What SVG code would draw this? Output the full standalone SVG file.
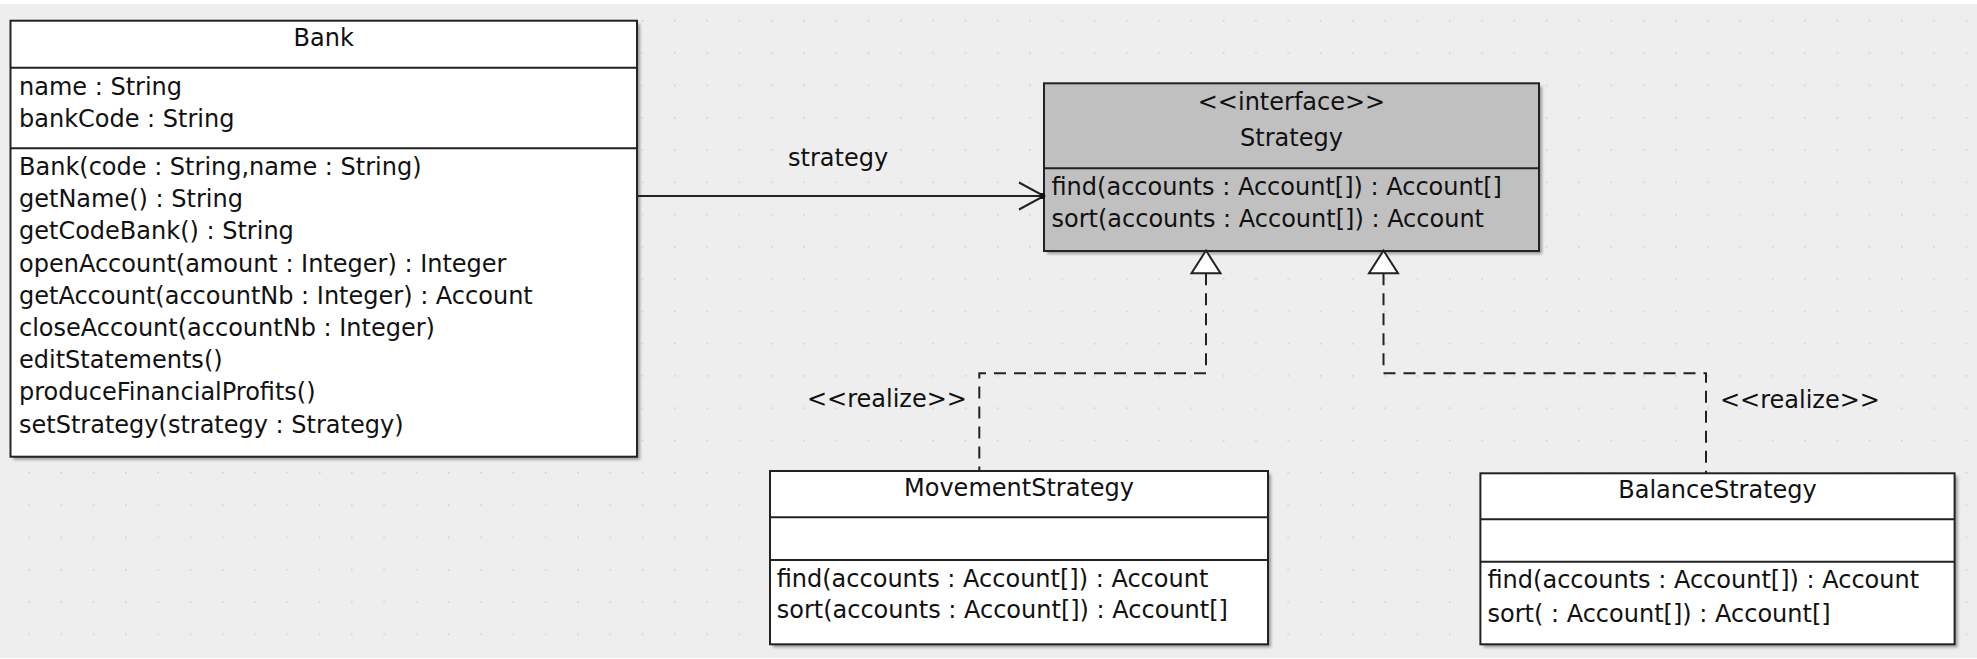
<svg xmlns="http://www.w3.org/2000/svg" width="1977" height="659" viewBox="0 0 1977 659">
  <style>
    .box { stroke: #222; stroke-width: 2; }
    .cls { fill: #ffffff; }
    .iface { fill: #c0c0c0; }
    .div { stroke: #222; stroke-width: 2; }
    text { font-family: "DejaVu Sans", "Liberation Sans", sans-serif; font-size: 24px; fill: #111; }
    .mid { text-anchor: middle; }
    .line { fill: none; stroke: #222; stroke-width: 2; }
    .dash { fill: none; stroke: #222; stroke-width: 2; stroke-dasharray: 12 8; }
    .tri { fill: #ffffff; stroke: #222; stroke-width: 2; stroke-linejoin: miter; }
  </style>
  <defs>
    <pattern id="grid" x="28.2" y="20" width="32.29" height="32.29" patternUnits="userSpaceOnUse">
      <rect x="-1.5" y="-1.5" width="3" height="3" fill="#cdcdcd"/>
    </pattern>
    <filter id="shadow" x="-5%" y="-5%" width="110%" height="110%">
      <feGaussianBlur stdDeviation="1.6"/>
    </filter>
  </defs>

  <!-- canvas -->
  <rect x="0" y="0" width="1977" height="659" fill="#ffffff"/>
  <rect x="0" y="4" width="1977" height="654" fill="#eeeeee"/>
  <rect x="0" y="4" width="1977" height="654" fill="url(#grid)"/>

  <!-- Bank -->
  <g id="bank">
    <rect x="13.5" y="23.7" width="626.5" height="436" fill="#9a9a9a" filter="url(#shadow)"/>
    <rect class="box cls" x="10.5" y="20.7" width="626.5" height="436"/>
    <line class="div" x1="10.5" y1="67.7" x2="637" y2="67.7"/>
    <line class="div" x1="10.5" y1="148.3" x2="637" y2="148.3"/>
    <text class="mid" x="323.7" y="45.7">Bank</text>
    <text x="19" y="95">name : String</text>
    <text x="19" y="126.7">bankCode : String</text>
    <text x="19" y="175">Bank(code : String,name : String)</text>
    <text x="19" y="207">getName() : String</text>
    <text x="19" y="239">getCodeBank() : String</text>
    <text x="19" y="271.5">openAccount(amount : Integer) : Integer</text>
    <text x="19" y="303.5">getAccount(accountNb : Integer) : Account</text>
    <text x="19" y="336">closeAccount(accountNb : Integer)</text>
    <text x="19" y="368">editStatements()</text>
    <text x="19" y="400">produceFinancialProfits()</text>
    <text x="19" y="432.5">setStrategy(strategy : Strategy)</text>
  </g>

  <!-- Strategy interface -->
  <g id="strategy">
    <rect x="1047" y="86.3" width="495" height="167.7" fill="#9a9a9a" filter="url(#shadow)"/>
    <rect class="box iface" x="1044" y="83.3" width="495" height="167.7"/>
    <line class="div" x1="1044" y1="168.3" x2="1539" y2="168.3"/>
    <text class="mid" x="1291.5" y="110">&lt;&lt;interface&gt;&gt;</text>
    <text class="mid" x="1291.5" y="146">Strategy</text>
    <text x="1051.5" y="195">find(accounts : Account[]) : Account[]</text>
    <text x="1051.5" y="226.7">sort(accounts : Account[]) : Account</text>
  </g>

  <!-- MovementStrategy -->
  <g id="movement-strategy">
    <rect x="773" y="474" width="498" height="173.3" fill="#9a9a9a" filter="url(#shadow)"/>
    <rect class="box cls" x="770" y="471" width="498" height="173.3"/>
    <line class="div" x1="770" y1="517.3" x2="1268" y2="517.3"/>
    <line class="div" x1="770" y1="560" x2="1268" y2="560"/>
    <text class="mid" x="1019" y="496">MovementStrategy</text>
    <text x="776.7" y="586.7">find(accounts : Account[]) : Account</text>
    <text x="776.7" y="618.3">sort(accounts : Account[]) : Account[]</text>
  </g>

  <!-- BalanceStrategy -->
  <g id="balance-strategy">
    <rect x="1483.4" y="476.3" width="474.2" height="171" fill="#9a9a9a" filter="url(#shadow)"/>
    <rect class="box cls" x="1480.4" y="473.3" width="474.2" height="171"/>
    <line class="div" x1="1480.4" y1="519.3" x2="1954.6" y2="519.3"/>
    <line class="div" x1="1480.4" y1="561.7" x2="1954.6" y2="561.7"/>
    <text class="mid" x="1717.5" y="498.3">BalanceStrategy</text>
    <text x="1487.5" y="588.3">find(accounts : Account[]) : Account</text>
    <text x="1487.5" y="621.7">sort( : Account[]) : Account[]</text>
  </g>

  <!-- connectors -->
  <g id="connectors">
    <!-- Bank -> Strategy association -->
    <line class="line" x1="637" y1="196" x2="1044" y2="196"/>
    <polyline class="line" points="1019,182.5 1044,196 1019,209.5"/>
    <rect x="1040" y="193" width="5" height="6" fill="#111"/>
    <text x="788" y="166">strategy</text>

    <!-- MovementStrategy realizes Strategy -->
    <path class="dash" d="M1206,273.3 V373.3 H979.3 V471"/>
    <polygon class="tri" points="1206,250.5 1191.5,273.3 1220.5,273.3"/>
    <text x="807" y="406.5">&lt;&lt;realize&gt;&gt;</text>

    <!-- BalanceStrategy realizes Strategy -->
    <path class="dash" d="M1383.5,273.3 V373.3 H1706 V473.3"/>
    <polygon class="tri" points="1383.5,250.5 1369,273.3 1398,273.3"/>
    <text x="1720" y="408.3">&lt;&lt;realize&gt;&gt;</text>
  </g>
</svg>
